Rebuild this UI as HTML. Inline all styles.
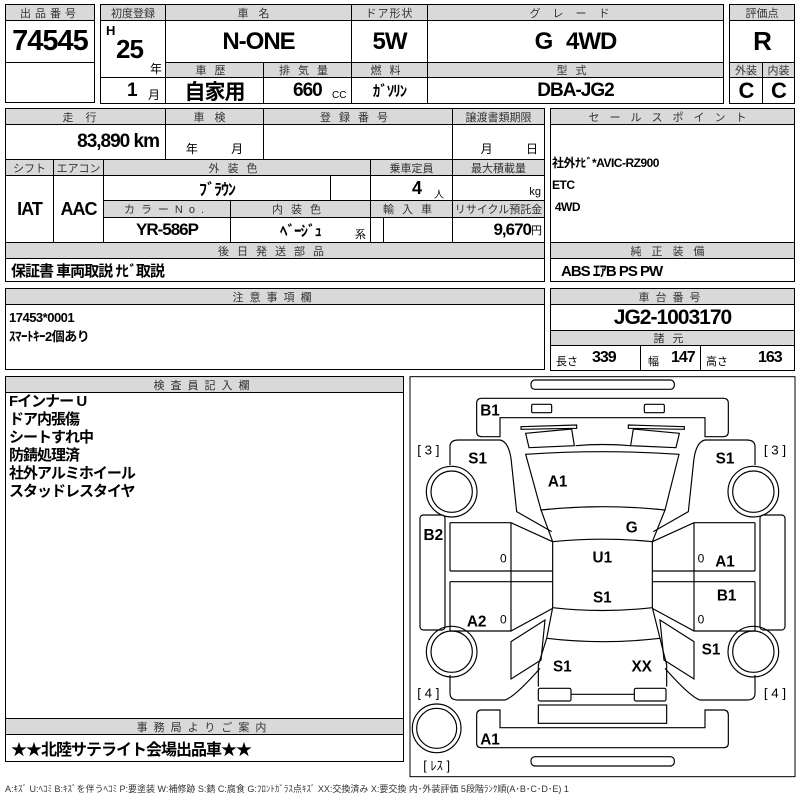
<!DOCTYPE html>
<html><head><meta charset="utf-8"><style>
body{margin:0;width:800px;height:800px;background:#fff;position:relative;overflow:hidden;font-family:"Liberation Sans","Noto Sans CJK JP",sans-serif;color:#000}
.c{position:absolute;border:1px solid #000;box-sizing:border-box;display:flex;align-items:center;justify-content:center;white-space:nowrap}
.h{background:#d9d9d9;font-size:11px;letter-spacing:4px;color:#333;font-weight:normal}
.b{font-weight:bold;letter-spacing:-1px}
.t{position:absolute;white-space:nowrap}
</style></head><body>
<div class="c h" style="left:5px;top:4px;width:90px;height:17px">出品番号</div>
<div class="c b" style="left:5px;top:20px;width:90px;height:43px;font-size:29px">74545</div>
<div class="c" style="left:5px;top:62px;width:90px;height:41px"></div>
<div class="c h" style="left:100px;top:4px;width:66px;height:17px;letter-spacing:0">初度登録</div>
<div class="c h" style="left:165px;top:4px;width:187px;height:17px;letter-spacing:10px">車名</div>
<div class="c h" style="left:351px;top:4px;width:77px;height:17px;letter-spacing:1px">ドア形状</div>
<div class="c h" style="left:427px;top:4px;width:297px;height:17px;letter-spacing:12px">グレード</div>
<div class="c" style="left:100px;top:20px;width:66px;height:58px"></div>
<div class="t b" style="left:106px;top:23px;font-size:13px">H</div>
<div class="t b" style="left:116px;top:34px;font-size:26px">25</div>
<div class="t" style="left:150px;top:60px;font-size:12px">年</div>
<div class="c b" style="left:165px;top:20px;width:187px;height:43px;font-size:24px">N-ONE</div>
<div class="c b" style="left:351px;top:20px;width:77px;height:43px;font-size:24px">5W</div>
<div class="c b" style="left:427px;top:20px;width:297px;height:43px;font-size:24px;word-spacing:8px">G 4WD</div>
<div class="c h" style="left:165px;top:62px;width:99px;height:16px;letter-spacing:8px">車歴</div>
<div class="c h" style="left:263px;top:62px;width:89px;height:16px;letter-spacing:8px">排気量</div>
<div class="c h" style="left:351px;top:62px;width:77px;height:16px;letter-spacing:8px">燃料</div>
<div class="c h" style="left:427px;top:62px;width:297px;height:16px;letter-spacing:8px">型式</div>
<div class="c" style="left:100px;top:77px;width:66px;height:27px"></div>
<div class="t b" style="left:127px;top:80px;font-size:19px">1</div>
<div class="t" style="left:148px;top:86px;font-size:12px">月</div>
<div class="c b" style="left:165px;top:77px;width:99px;height:27px;font-size:21px">自家用</div>
<div class="c" style="left:263px;top:77px;width:89px;height:27px"></div>
<div class="t b" style="left:293px;top:80px;font-size:19px">660</div>
<div class="t" style="left:332px;top:90px;font-size:10px">CC</div>
<div class="c b" style="left:351px;top:77px;width:77px;height:27px;font-size:15px">ｶﾞｿﾘﾝ</div>
<div class="c b" style="left:427px;top:77px;width:297px;height:27px;font-size:19px">DBA-JG2</div>
<div class="c h" style="left:729px;top:4px;width:66px;height:17px;letter-spacing:0">評価点</div>
<div class="c b" style="left:729px;top:20px;width:66px;height:43px;font-size:26px">R</div>
<div class="c h" style="left:729px;top:62px;width:34px;height:16px;letter-spacing:0">外装</div>
<div class="c h" style="left:762px;top:62px;width:33px;height:16px;letter-spacing:0">内装</div>
<div class="c b" style="left:729px;top:77px;width:34px;height:27px;font-size:22px">C</div>
<div class="c b" style="left:762px;top:77px;width:33px;height:27px;font-size:22px">C</div>
<div class="c h" style="left:5px;top:108px;width:161px;height:17px;letter-spacing:12px">走行</div>
<div class="c h" style="left:165px;top:108px;width:99px;height:17px;letter-spacing:10px">車検</div>
<div class="c h" style="left:263px;top:108px;width:190px;height:17px;letter-spacing:8px">登録番号</div>
<div class="c h" style="left:452px;top:108px;width:93px;height:17px;letter-spacing:0">譲渡書類期限</div>
<div class="c b" style="left:5px;top:124px;width:161px;height:36px;font-size:19px;justify-content:flex-end;padding-right:6px">83,890 km</div>
<div class="c" style="left:165px;top:124px;width:99px;height:36px;font-size:12px;align-items:flex-end;padding-bottom:2px;word-spacing:30px">年 月</div>
<div class="c" style="left:263px;top:124px;width:190px;height:36px"></div>
<div class="c" style="left:452px;top:124px;width:93px;height:36px;font-size:12px;align-items:flex-end;padding-bottom:2px;word-spacing:30px;justify-content:flex-end;padding-right:6px">月 日</div>
<div class="c h" style="left:5px;top:159px;width:49px;height:17px;letter-spacing:0">シフト</div>
<div class="c h" style="left:53px;top:159px;width:51px;height:17px;letter-spacing:0">エアコン</div>
<div class="c h" style="left:103px;top:159px;width:268px;height:17px;letter-spacing:8px">外装色</div>
<div class="c h" style="left:370px;top:159px;width:83px;height:17px;letter-spacing:0">乗車定員</div>
<div class="c h" style="left:452px;top:159px;width:93px;height:17px;letter-spacing:0">最大積載量</div>
<div class="c b" style="left:5px;top:175px;width:49px;height:68px;font-size:18px">IAT</div>
<div class="c b" style="left:53px;top:175px;width:51px;height:68px;font-size:18px">AAC</div>
<div class="c b" style="left:103px;top:175px;width:228px;height:26px;font-size:16px">ﾌﾞﾗｳﾝ</div>
<div class="c" style="left:330px;top:175px;width:41px;height:26px"></div>
<div class="c" style="left:370px;top:175px;width:83px;height:26px"></div>
<div class="t b" style="left:412px;top:178px;font-size:18px">4</div>
<div class="t" style="left:434px;top:186px;font-size:10px">人</div>
<div class="c" style="left:452px;top:175px;width:93px;height:26px;font-size:11px;justify-content:flex-end;align-items:flex-end;padding:0 3px 2px 0">kg</div>
<div class="c h" style="left:103px;top:200px;width:128px;height:18px;letter-spacing:6px">カラーNo.</div>
<div class="c h" style="left:230px;top:200px;width:141px;height:18px;letter-spacing:8px">内装色</div>
<div class="c h" style="left:370px;top:200px;width:83px;height:18px;letter-spacing:8px">輸入車</div>
<div class="c h" style="left:452px;top:200px;width:93px;height:18px;letter-spacing:0">リサイクル預託金</div>
<div class="c b" style="left:103px;top:217px;width:128px;height:26px;font-size:17px">YR-586P</div>
<div class="c b" style="left:230px;top:217px;width:141px;height:26px;font-size:15px">ﾍﾞｰｼﾞｭ</div>
<div class="t" style="left:355px;top:226px;font-size:11px">系</div>
<div class="c" style="left:370px;top:217px;width:14px;height:26px"></div>
<div class="c" style="left:383px;top:217px;width:70px;height:26px"></div>
<div class="c b" style="left:452px;top:217px;width:93px;height:26px;font-size:17px;justify-content:flex-end;padding-right:3px">9,670<span style="font-weight:normal;font-size:11px">円</span></div>
<div class="c h" style="left:5px;top:242px;width:540px;height:17px;letter-spacing:8px">後日発送部品</div>
<div class="c b" style="left:5px;top:258px;width:540px;height:24px;font-size:15px;justify-content:flex-start;padding-left:5px">保証書 車両取説 ﾅﾋﾞ取説</div>
<div class="c h" style="left:550px;top:108px;width:245px;height:17px;letter-spacing:10px">セールスポイント</div>
<div class="c" style="left:550px;top:124px;width:245px;height:119px"></div>
<div class="t b" style="left:552px;top:152px;font-size:12px;line-height:22px;letter-spacing:-0.5px">社外ﾅﾋﾞ*AVIC-RZ900<br>ETC<br>&nbsp;4WD</div>
<div class="c h" style="left:550px;top:242px;width:245px;height:17px;letter-spacing:10px">純正装備</div>
<div class="c b" style="left:550px;top:258px;width:245px;height:24px;font-size:15px;justify-content:flex-start;padding-left:10px">ABS ｴｱB PS PW</div>
<div class="c h" style="left:5px;top:288px;width:540px;height:17px;letter-spacing:6px">注意事項欄</div>
<div class="c" style="left:5px;top:304px;width:540px;height:66px"></div>
<div class="t b" style="left:9px;top:308px;font-size:13px;line-height:19px;letter-spacing:-0.5px">17453*0001<br>ｽﾏｰﾄｷｰ2個あり</div>
<div class="c h" style="left:550px;top:288px;width:245px;height:17px;letter-spacing:6px">車台番号</div>
<div class="c b" style="left:550px;top:304px;width:245px;height:27px;font-size:21px">JG2-1003170</div>
<div class="c h" style="left:550px;top:330px;width:245px;height:16px;letter-spacing:8px">諸元</div>
<div class="c" style="left:550px;top:345px;width:91px;height:26px"></div>
<div class="c" style="left:640px;top:345px;width:61px;height:26px"></div>
<div class="c" style="left:700px;top:345px;width:95px;height:26px"></div>
<div class="t" style="left:556px;top:353px;font-size:11px">長さ</div><div class="t b" style="left:592px;top:349px;font-size:16px">339</div>
<div class="t" style="left:648px;top:353px;font-size:11px">幅</div><div class="t b" style="left:671px;top:349px;font-size:16px">147</div>
<div class="t" style="left:706px;top:353px;font-size:11px">高さ</div><div class="t b" style="left:758px;top:349px;font-size:16px">163</div>
<div class="c h" style="left:5px;top:376px;width:399px;height:17px;letter-spacing:6px">検査員記入欄</div>
<div class="c" style="left:5px;top:392px;width:399px;height:327px"></div>
<div class="t b" style="left:9px;top:393px;font-size:15px;line-height:18px">Fインナー U<br>ドア内張傷<br>シートすれ中<br>防錆処理済<br>社外アルミホイール<br>スタッドレスタイヤ</div>
<div class="c h" style="left:5px;top:718px;width:399px;height:17px;letter-spacing:6px">事務局よりご案内</div>
<div class="c b" style="left:5px;top:734px;width:399px;height:28px;font-size:16px;justify-content:flex-start;padding-left:5px">★★北陸サテライト会場出品車★★</div>
<div class="t" style="left:5px;top:782px;font-size:9px;color:#333">A:ｷｽﾞ U:ﾍｺﾐ B:ｷｽﾞを伴うﾍｺﾐ P:要塗装 W:補修跡 S:錆 C:腐食 G:ﾌﾛﾝﾄｶﾞﾗｽ点ｷｽﾞ XX:交換済み X:要交換 内･外装評価 5段階ﾗﾝｸ順(A･B･C･D･E) 1</div>
<svg style="position:absolute;left:405px;top:375px" width="395" height="425" viewBox="0 0 1185 1275" fill="none" stroke="#000" stroke-width="3.5">
<rect x="15" y="5" width="1155" height="1200" stroke-width="3"/>
<rect x="378" y="15" width="430" height="28" rx="12"/>
<rect x="378" y="1145" width="430" height="28" rx="12"/>
<path d="M230,70 H955 Q970,70 970,85 V170 Q970,185 955,185 H900 V128 H285 V185 H230 Q215,185 215,170 V85 Q215,70 230,70 Z"/>
<rect x="380" y="88" width="60" height="25" rx="4"/><rect x="718" y="88" width="60" height="25" rx="4"/>
<path d="M230,1005 H285 V1058 H900 V1005 H955 Q970,1005 970,1020 V1105 Q970,1118 955,1118 H230 Q215,1118 215,1105 V1020 Q215,1005 230,1005 Z"/>
<path d="M348,155 L515,150 L515,160 L348,163 Z M838,155 L670,150 L670,160 L838,163 Z"/>
<path d="M362,175 L500,162 L508,212 L372,218 Z M823,175 L685,162 L677,212 L813,218 Z"/>
<path d="M512,212 Q592,205 677,212"/>
<path d="M362,238 Q592,222 822,238 L780,405 Q592,385 408,405 Z"/>
<path d="M408,405 L443,500 Q592,485 742,500 L780,405"/>
<path d="M443,500 V698 Q592,715 742,698 V500"/>
<path d="M443,698 L425,790 Q592,810 765,790 L742,698"/>
<path d="M425,790 L400,870 V935 M765,790 L785,870 V935"/>
<rect x="400" y="940" width="98" height="38" rx="5"/><rect x="688" y="940" width="95" height="38" rx="5"/>
<path d="M498,958 H688"/>
<rect x="400" y="990" width="385" height="55"/>
<g id="side">
<path d="M135,270 V215 Q135,195 160,195 H285 Q310,200 318,250 L335,410 L440,470"/>
<path d="M135,443 H318 L443,500 M135,588 H318 L443,588 M135,620 H443 M318,443 V768 M135,768 H318 L443,700"/>
<path d="M135,620 V768"/><path d="M135,443 V588"/>
<path d="M318,800 L420,735 L408,855 L318,912 Z"/>
<path d="M135,900 V955 Q135,975 160,975 H300 Q330,965 405,880"/>
<circle cx="140" cy="350" r="76"/><circle cx="140" cy="350" r="62"/>
<circle cx="140" cy="830" r="76"/><circle cx="140" cy="830" r="62"/>
<rect x="45" y="420" width="75" height="345" rx="10"/>
</g>
<use href="#side" transform="translate(1185,0) scale(-1,1)"/>
<circle cx="95" cy="1060" r="73"/><circle cx="95" cy="1060" r="60"/>
<g fill="#000" stroke="none" font-family="Liberation Sans, Noto Sans CJK JP, sans-serif" font-weight="bold" font-size="46" text-anchor="middle">
<text x="255" y="122">B1</text><text x="218" y="265">S1</text><text x="458" y="335">A1</text>
<text x="85" y="495">B2</text><text x="215" y="755">A2</text><text x="592" y="562">U1</text>
<text x="592" y="682">S1</text><text x="680" y="473">G</text><text x="960" y="265">S1</text>
<text x="960" y="575">A1</text><text x="965" y="677">B1</text><text x="918" y="838">S1</text>
<text x="472" y="890">S1</text><text x="710" y="890">XX</text><text x="255" y="1108">A1</text>
<text x="295" y="563" font-size="36" font-weight="normal">0</text><text x="295" y="745" font-size="36" font-weight="normal">0</text>
<text x="888" y="563" font-size="36" font-weight="normal">0</text><text x="888" y="745" font-size="36" font-weight="normal">0</text>
<text x="70" y="238" font-size="40" font-weight="normal">[ 3 ]</text><text x="1110" y="238" font-size="40" font-weight="normal">[ 3 ]</text>
<text x="70" y="968" font-size="40" font-weight="normal">[ 4 ]</text><text x="1110" y="968" font-size="40" font-weight="normal">[ 4 ]</text>
<text x="95" y="1185" font-size="38" font-weight="normal">[ ﾚｽ ]</text>
</g>
</svg>
</body></html>
